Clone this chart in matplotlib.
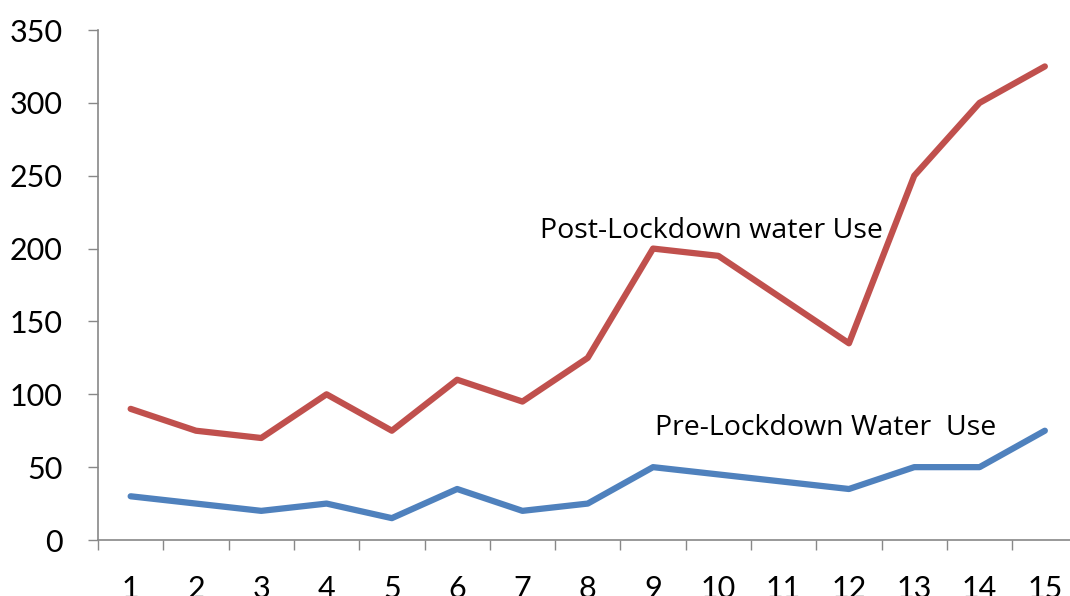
import matplotlib
matplotlib.use("Agg")
import matplotlib.pyplot as plt

days = list(range(1, 16))
post_lockdown = [90, 75, 70, 100, 75, 110, 95, 125, 200, 195, 165, 135, 250, 300, 325]
pre_lockdown = [30, 25, 20, 25, 15, 35, 20, 25, 50, 45, 40, 35, 50, 50, 75]
y_ticks = [0, 50, 100, 150, 200, 250, 300, 350]

plt.rcParams['font.family'] = ['Lato', 'DejaVu Sans']

W, H = 1070, 596
fig = plt.figure(figsize=(W / 100, H / 100), dpi=100)
left, right, bottom, top = 98, 98 + 15 * 65.3, 540, 30
ax = fig.add_axes([left / W, (H - bottom) / H, (right - left) / W, (bottom - top) / H])

ax.plot(days, post_lockdown, color='#C0504D', lw=4.5, solid_joinstyle='round', solid_capstyle='round', clip_on=False)
ax.plot(days, pre_lockdown, color='#4F81BD', lw=4.5, solid_joinstyle='round', solid_capstyle='round', clip_on=False)

ax.set_xlim(0.5, 15.5)
ax.set_ylim(0, 350)
ax.set_yticks(y_ticks)
ax.set_xticks(days)
ax.set_xticks([d + 0.5 for d in [0] + days], minor=True)
ax.tick_params(axis='x', which='major', length=0, pad=25, labelsize=22)
ax.tick_params(axis='x', which='minor', length=7.5, width=1, color='#888888', direction='out')
ax.tick_params(axis='y', length=7.5, width=1, color='#888888', pad=18, labelsize=22)

for s in ['top', 'right']:
    ax.spines[s].set_visible(False)
for s in ['left', 'bottom']:
    ax.spines[s].set_color('#888888')
    ax.spines[s].set_linewidth(1.2)

ax.text(7.27, 212, 'Post-Lockdown water Use', fontsize=20.5, family=['Open Sans', 'DejaVu Sans'],
        va='center', ha='left')
ax.text(9.03, 77, 'Pre-Lockdown Water  Use', fontsize=20.5, family=['Open Sans', 'DejaVu Sans'],
        va='center', ha='left')

fig.savefig('out.png', dpi=100)
